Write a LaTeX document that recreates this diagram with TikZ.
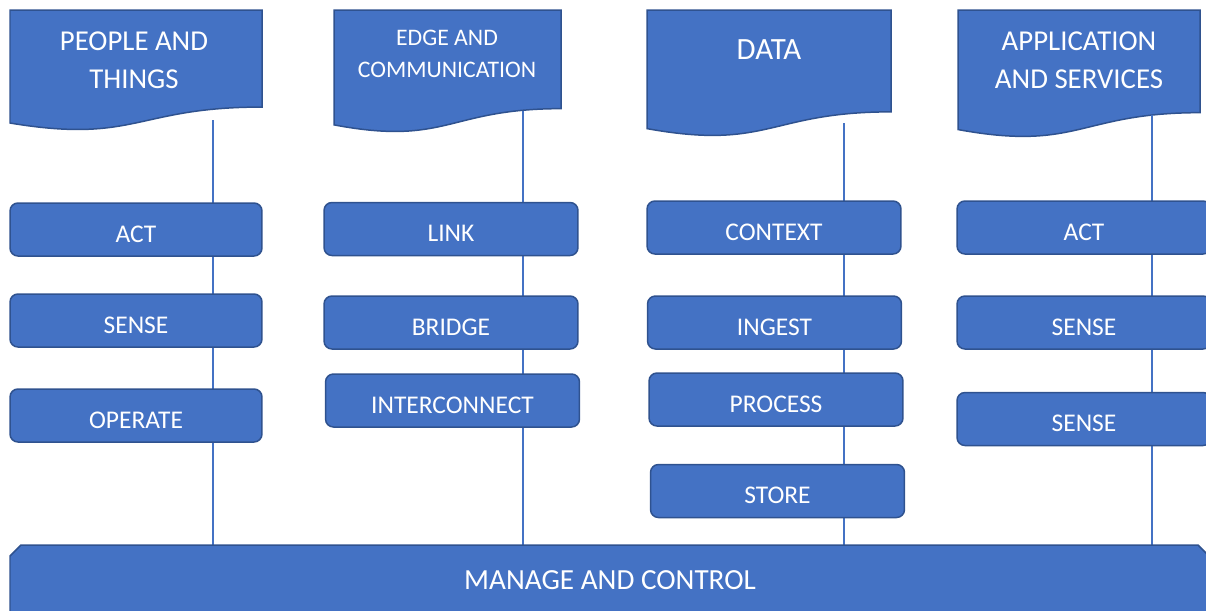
\documentclass[tikz,border=0pt]{standalone}
\usepackage{fontspec}
\setmainfont{Carlito}
\definecolor{layerfill}{HTML}{4472C4}
\definecolor{layerline}{HTML}{2F528F}
% flowchart document shape: left, top, width, height
\def\docshape(#1,#2,#3,#4){\draw[docbox] (#1,#2) -- ({#1+#3},#2) -- ({#1+#3},{#2+0.802*#4}) .. controls ({#1+#3/2},{#2+0.802*#4}) and ({#1+#3/2},{#2+1.1075*#4}) .. (#1,{#2+0.934*#4}) -- cycle;}
\tikzset{
  docbox/.style={fill=layerfill, draw=layerline, line width=0.85pt},
  layer/.style={rectangle, rounded corners=4.5pt, fill=layerfill, draw=layerline, line width=0.85pt,
    text=white, minimum width=5.08cm, minimum height=1.06cm, inner sep=0pt,
    text height=14.5pt, text depth=0pt, font=\fontsize{14.5}{17}\selectfont},
  head/.style={text=white, align=center, font=\fontsize{16.4}{21.5}\selectfont},
  link/.style={draw=layerfill, line width=0.6pt}
}

\begin{document}
\begin{tikzpicture}[x=0.02cm, y=-0.02cm]
			%%%%% START %%%%%
			\useasboundingbox (0,0) rectangle (1206,610);
			
			% column headers
			\docshape(10,10,252,121)
			\docshape(334,10,227,123)
			\docshape(647,10,244,127)
			\docshape(958,10,242,128)
			\node[head] (people) at (134,60) {PEOPLE AND\\THINGS};
			\node[head, font=\fontsize{13.5}{18.1}\selectfont] (edge) at (447,54) {EDGE AND\\COMMUNICATION};
			\node[head, font=\fontsize{17.6}{21.5}\selectfont] (data) at (769,50) {DATA};
			\node[head] (apps) at (1079,60) {APPLICATION\\AND SERVICES};
			
			% where the drops leave the headers and meet the bar
			\coordinate (people-d) at (213,120);
			\coordinate (edge-d) at (523,111);
			\coordinate (data-d) at (844,123);
			\coordinate (apps-d) at (1152,115);
			\coordinate (bartop) at (0,545);
			
			\draw[link] (people-d) -- (people-d |- bartop);
			\draw[link] (edge-d) -- (edge-d |- bartop);
			\draw[link] (data-d) -- (data-d |- bartop);
			\draw[link] (apps-d) -- (apps-d |- bartop);
			
			% people and things
			\node[layer, minimum width=5.04cm] (pact) at (136,229.5) {ACT};
			\node[layer, minimum width=5.04cm] (psense) at (136,320.5) {SENSE};
			\node[layer, minimum width=5.04cm] (poperate) at (136,415.5) {OPERATE};
			
			% edge and communication
			\node[layer] (elink) at (451,229) {LINK};
			\node[layer] (ebridge) at (451,322.5) {BRIDGE};
			\node[layer] (einter) at (452.5,400.5) {INTERCONNECT};
			
			% data
			\node[layer] (dcontext) at (774,227.5) {CONTEXT};
			\node[layer] (dingest) at (774.5,322.5) {INGEST};
			\node[layer] (dprocess) at (776,399.5) {PROCESS};
			\node[layer] (dstore) at (777.5,491) {STORE};
			
			% application and services
			\node[layer] (aact) at (1084,227.5) {ACT};
			\node[layer] (asense) at (1084,322.5) {SENSE};
			\node[layer] (asense2) at (1084,419) {SENSE};
			
			% manage and control
			\draw[docbox] (10,556) -- (21,545) -- (1198,545) -- (1212,559) -- (1212,625) -- (10,625) -- cycle;
			\node[head, font=\fontsize{16.6}{20}\selectfont] (manage) at (610,580) {MANAGE AND CONTROL};
			
			%%%%% END %%%%%
\end{tikzpicture}
\end{document}
